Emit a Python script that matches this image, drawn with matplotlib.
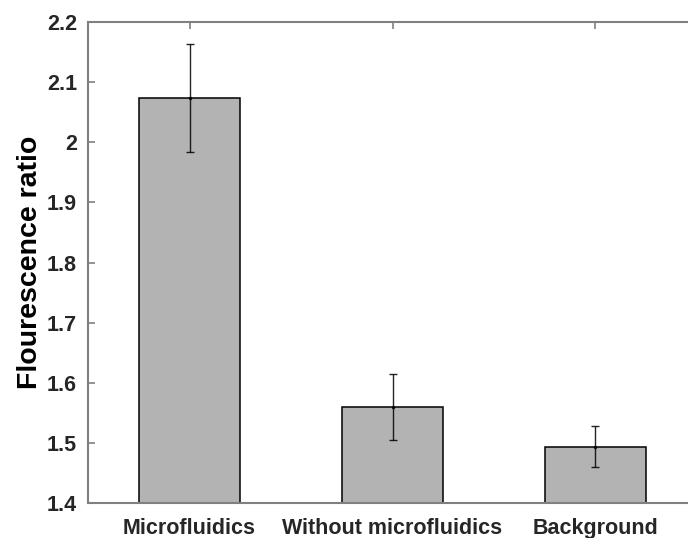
"""Bar chart of fluorescence ratio with error bars"""
import matplotlib
matplotlib.use('Agg')
from matplotlib import pyplot as plt

categories = ['Microfluidics', 'Without microfluidics', 'Background']
ratio_mean = [2.074, 1.560, 1.494]
ratio_err = [0.090, 0.055, 0.034]

plt.rcParams['font.family'] = ['Liberation Sans', 'DejaVu Sans']

fig = plt.figure(figsize=(6.88, 5.38), dpi=100)
ax = fig.add_axes([0.128, 0.065, 0.885, 0.894])

xpos = list(range(1, len(categories) + 1))
ax.bar(xpos, ratio_mean, width=0.5, color='#b3b3b3', edgecolor='black', linewidth=1.1, zorder=2)
ax.errorbar(xpos, ratio_mean, yerr=ratio_err, fmt='.', color='black', markersize=3,
            elinewidth=1.0, capsize=3, capthick=1.0, alpha=0.85, zorder=3)

ax.set_xlim(0.5, 3.5)
ax.set_ylim(1.4, 2.2)
ax.set_xticks(xpos)
ax.set_xticklabels(categories)
ax.set_yticks([1.4, 1.5, 1.6, 1.7, 1.8, 1.9, 2.0, 2.1, 2.2])
ax.set_yticklabels(['1.4', '1.5', '1.6', '1.7', '1.8', '1.9', '2', '2.1', '2.2'])
ax.set_ylabel('Flourescence ratio', fontsize=20.5, fontweight='bold', labelpad=3)

ax.tick_params(direction='in', length=5, width=1.2, color='#808080',
               top=True, right=True, labelsize=15.5, pad=8)
ax.tick_params(axis='x', pad=11)
for lab in ax.get_xticklabels() + ax.get_yticklabels():
    lab.set_fontweight('bold')
    lab.set_color('#262626')
for sp in ax.spines.values():
    sp.set_color('#808080')
    sp.set_linewidth(1.5)

plt.savefig('out.png', dpi=100)
